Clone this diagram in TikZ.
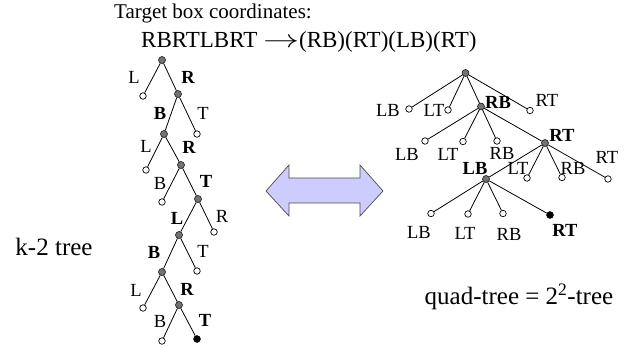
\documentclass[tikz,border=0pt]{standalone}
\usepackage{graphicx}
\usepackage{fontspec}
\setmainfont{Liberation Serif}
\begin{document}
\begin{tikzpicture}[x=1pt,y=-1pt,
  edge/.style={draw=black,line width=0.8pt},
  inner/.style={circle,draw=black,fill=black!55,inner sep=0pt,minimum size=7pt,line width=0.5pt},
  leaf/.style={circle,draw=black,fill=white,inner sep=0pt,minimum size=6.5pt,line width=0.7pt},
  goal/.style={circle,draw=black,fill=black,inner sep=0pt,minimum size=7pt},
  lbl/.style={font=\fontsize{18.5}{20}\selectfont,inner sep=0pt},
  blbl/.style={lbl,font=\fontsize{18.5}{20}\selectfont\bfseries},
  big/.style={font=\fontsize{25}{28}\selectfont,inner sep=0pt},
  head/.style={font=\fontsize{21}{24}\selectfont,inner sep=0pt,anchor=west}]
\path[use as bounding box] (0,0) rectangle (630,348);

% heading
\node[head] (h1) at (114,13) {Target box coordinates:};
\node[head,font=\fontsize{23}{26}\selectfont] (h2) at (141,42)
  {RBRTLBRT \scalebox{1.45}[1]{$\rightarrow$}(RB)(RT)(LB)(RT)};

% k-2 tree
\node[inner] (l0) at (162,60) {};
\node[leaf]  (l1a) at (143,96) {};
\node[inner] (l1b) at (178,94) {};
\node[inner] (l2a) at (164,134) {};
\node[leaf]  (l2b) at (197,134) {};
\node[leaf]  (l3a) at (146,170) {};
\node[inner] (l3b) at (181,165) {};
\node[leaf]  (l4a) at (162,202) {};
\node[inner] (l4b) at (198,199) {};
\node[inner] (l5a) at (179,235) {};
\node[leaf]  (l5b) at (214,232) {};
\node[inner] (l6a) at (162,272) {};
\node[leaf]  (l6b) at (197,271) {};
\node[leaf]  (l7a) at (143,308) {};
\node[inner] (l7b) at (179,305) {};
\node[leaf]  (l8a) at (162,341) {};
\node[goal]  (l8b) at (197,339) {};
\foreach \p/\c in {l0/l1a,l0/l1b,l1b/l2a,l1b/l2b,l2a/l3a,l2a/l3b,l3b/l4a,l3b/l4b,
                   l4b/l5a,l4b/l5b,l5a/l6a,l5a/l6b,l6a/l7a,l6a/l7b,l7b/l8a,l7b/l8b}
  \draw[edge] (\p) -- (\c);

\node[lbl]  (t1L) at (134,77) {L};
\node[blbl] (t1R) at (188,77) {R};
\node[blbl] (t2B) at (160,113) {B};
\node[lbl]  (t2T) at (203,113) {T};
\node[lbl]  (t3L) at (146,146) {L};
\node[blbl] (t3R) at (189,147) {R};
\node[lbl]  (t4B) at (160,183) {B};
\node[blbl] (t4T) at (206,181) {T};
\node[blbl] (t5L) at (177,218) {L};
\node[lbl]  (t5R) at (222,216) {R};
\node[blbl] (t6B) at (154,252) {B};
\node[lbl]  (t6T) at (203,251) {T};
\node[lbl]  (t7L) at (136,290) {L};
\node[blbl] (t7R) at (187,289) {R};
\node[lbl]  (t8B) at (160,321) {B};
\node[blbl] (t8T) at (205,320) {T};

\node[big] (k2) at (54,247) {k-2 tree};

% double arrow
\draw[fill={rgb,255:red,204;green,204;blue,255},draw=black!70,line width=0.7pt]
  (266,191) -- (289,165) -- (289,178) -- (360,178) -- (360,165) -- (383,191)
  -- (360,216) -- (360,203) -- (289,203) -- (289,216) -- cycle;

% quad-tree
\node[inner] (r0) at (465.5,73) {};
\node[leaf]  (r1a) at (409,109) {};
\node[leaf]  (r1b) at (448,110) {};
\node[inner] (r1c) at (481,106.5) {};
\node[leaf]  (r1d) at (530,110.5) {};
\node[leaf]  (r2a) at (425,141) {};
\node[leaf]  (r2b) at (463,141.5) {};
\node[leaf]  (r2c) at (497,141) {};
\node[inner] (r2d) at (545,143) {};
\node[inner] (r3a) at (486,179) {};
\node[leaf]  (r3b) at (527,178) {};
\node[leaf]  (r3c) at (562,177.5) {};
\node[leaf]  (r3d) at (608,179) {};
\node[leaf]  (r4a) at (431,213.5) {};
\node[leaf]  (r4b) at (468,214) {};
\node[leaf]  (r4c) at (503,213.5) {};
\node[goal]  (r4d) at (550,215) {};
\foreach \p/\c in {r0/r1a,r0/r1b,r0/r1c,r0/r1d,r1c/r2a,r1c/r2b,r1c/r2c,r1c/r2d,
                   r2d/r3a,r2d/r3b,r2d/r3c,r2d/r3d,r3a/r4a,r3a/r4b,r3a/r4c,r3a/r4d}
  \draw[edge] (\p) -- (\c);

\node[lbl]  (q1a) at (388,110) {LB};
\node[lbl]  (q1b) at (434,110) {LT};
\node[blbl] (q1c) at (498,102) {RB};
\node[lbl]  (q1d) at (547,100) {RT};
\node[lbl]  (q2a) at (407,154) {LB};
\node[lbl]  (q2b) at (448,154) {LT};
\node[lbl]  (q2c) at (502,153) {RB};
\node[blbl] (q2d) at (562,135) {RT};
\node[blbl] (q3a) at (475,168) {LB};
\node[lbl]  (q3b) at (518,168) {LT};
\node[lbl]  (q3c) at (573,168) {RB};
\node[lbl]  (q3d) at (607,157) {RT};
\node[lbl]  (q4a) at (419,232) {LB};
\node[lbl]  (q4b) at (465,233) {LT};
\node[lbl]  (q4c) at (509,234) {RB};
\node[blbl] (q4d) at (565,230) {RT};

\node[big] (qt) at (519,297) {quad-tree = 2\textsuperscript{2}-tree};
\end{tikzpicture}
\end{document}
